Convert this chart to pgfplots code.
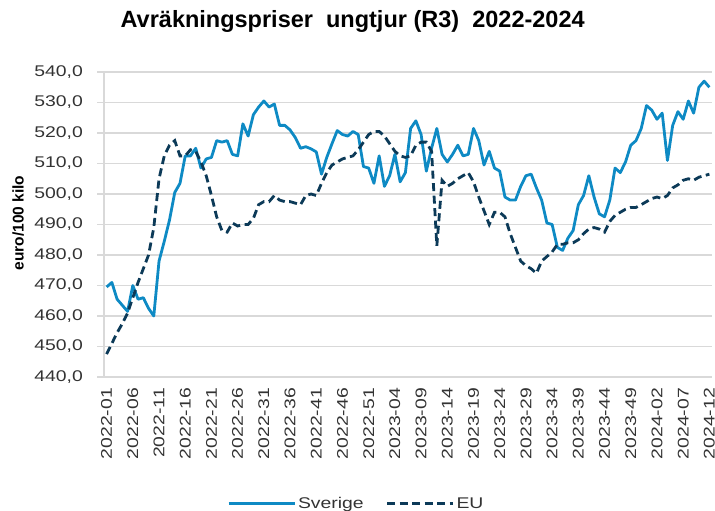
\documentclass[border=0pt]{standalone}
\usepackage{fontspec}
\setmainfont{Liberation Sans}
\newfontfamily\tickfont[FakeStretch=1.25]{Liberation Sans}
\usepackage{pgfplots}
\pgfplotsset{compat=1.18}
\usepackage{pgfplotstable}
\definecolor{sve}{RGB}{14,138,196}
\definecolor{eu}{RGB}{12,58,88}
\definecolor{gridc}{RGB}{217,217,217}

\pgfplotstableread{
i sve eu
0 469.5 447.5
1 471 451
2 465.5 454.5
3 463.5 457.5
4 461.5 461
5 470 466
6 465.5 471
7 466 475.5
8 462.5 480
9 460 489
10 478 505
11 484.5 512.5
12 491.5 516
13 500.5 517.5
14 503.5 512.5
15 512.5 512.5
16 512.5 514.5
17 515 514
18 508.5 510.5
19 511.5 506
20 512 499.5
21 517.5 492.5
22 517 488
23 517.5 487.5
24 513 490.5
25 512.5 489.5
26 523 490
27 519 490
28 526 492
29 528.5 496.5
30 530.5 497.5
31 528.5 497.5
32 529.5 499.5
33 522.5 498
34 522.5 497.5
35 521 497.5
36 518.5 497
37 515 496.5
38 515.5 499.5
39 514.8 500
40 513.8 499.5
41 506.5 503.5
42 512 507
43 516.5 509.5
44 520.8 510.5
45 519.5 511.5
46 519 512
47 520.5 512.5
48 519.5 514.5
49 509 517
50 508.5 519.5
51 503.5 520.5
52 512.5 520.5
53 502.5 519
54 506 516.5
55 513 514
56 504 512.5
57 507 512
58 521.5 512.5
59 524 516
60 519.5 517
61 507.5 517
62 515 514
63 521.5 483
64 513 504.5
65 510.5 502.5
66 513 503.5
67 516 505
68 512.5 506
69 513 507
70 521.5 504
71 517.5 499
72 509.5 494.5
73 514 490
74 508.5 494
75 507.5 494
76 499 492.5
77 498 487
78 498 482.5
79 502.5 478
80 506 476.5
81 506.5 475.5
82 502 474
83 498 478
84 490.5 479.5
85 490 481
86 482.5 483.5
87 481.5 483.5
88 485.5 484
89 488 484
90 496.5 485
91 499.5 487
92 506 488.5
93 499 489
94 493.5 488.5
95 492.5 487.5
96 498 491
97 508.5 493
98 507 494
99 510.5 495
100 516 495.6
101 517.5 495.6
102 521.5 496.5
103 529 497.5
104 527.5 498.5
105 524.5 499
106 526.5 498.5
107 511 499.5
108 522.5 502
109 527 503
110 524.5 504.5
111 530.5 505
112 526.5 504.5
113 535 505.5
114 537 506
115 535 506.5
}\datatable

\begin{document}
\begin{tikzpicture}
\begin{axis}[
  name=ax,
  scale only axis, width=608pt, height=305pt,
  xmin=-0.5, xmax=115.5, ymin=440, ymax=540,
  ytick={440,450,...,540},
  xtick={0,5,...,115},
  xticklabels={2022-01,2022-06,2022-11,2022-16,2022-21,2022-26,2022-31,2022-36,2022-41,2022-46,2022-51,2023-04,2023-09,2023-14,2023-19,2023-24,2023-29,2023-34,2023-39,2023-44,2023-49,2024-02,2024-07,2024-12},
  axis x line*=bottom, axis y line*=left,
  axis line style={draw=gridc, line width=1.3pt},
  ymajorgrids, grid style={draw=gridc, line width=1.3pt},
  tick align=outside, major tick length=7pt,
  y tick style={draw=gridc, line width=1.3pt},
  x tick style={draw=none},
  /pgf/number format/fixed, /pgf/number format/fixed zerofill,
  /pgf/number format/precision=1, /pgf/number format/use comma,
  /pgf/number format/1000 sep={}, /pgf/number format/assume math mode=true,
  tick label style={font=\tickfont\fontsize{15.5}{18}\selectfont, text=black!80},
  yticklabel style={inner sep=0pt, xshift=-14pt},
  xticklabel style={rotate=90, anchor=east, inner sep=0pt, xshift=-4pt},
  ylabel={euro/100 kilo},
  ylabel style={at={(axis description cs:-0.141,0.505)}, anchor=center, font=\bfseries\fontsize{15.5}{18}\selectfont},
  title={Avräkningspriser\ \ ungtjur (R3)\ \ 2022-2024},
  title style={at={(axis description cs:0.409,1.147)}, anchor=center, font=\bfseries\fontsize{23.5}{27}\selectfont},
  legend columns=2,
  legend image code/.code={\draw[#1] (0pt,0pt) -- (66pt,0pt);},
  legend style={draw=none, fill=none, at={(0.415,-0.416)}, anchor=center,
    font=\tickfont\fontsize{15.5}{18}\selectfont, text=black!80,
    /tikz/every even column/.append style={column sep=20pt}},
]
\addplot[sve, line width=2.8pt, line join=round] table[x=i, y=sve] {\datatable};
\addlegendentry{Sverige}
\addplot[eu, line width=2.8pt, dash pattern=on 8pt off 4.5pt] table[x=i, y=eu] {\datatable};
\addlegendentry{EU}
\end{axis}
\pgfresetboundingbox
\path[use as bounding box] ([xshift=-104pt,yshift=-134pt]ax.south west) rectangle ([xshift=3pt,yshift=72pt]ax.north east);
\end{tikzpicture}
\end{document}
